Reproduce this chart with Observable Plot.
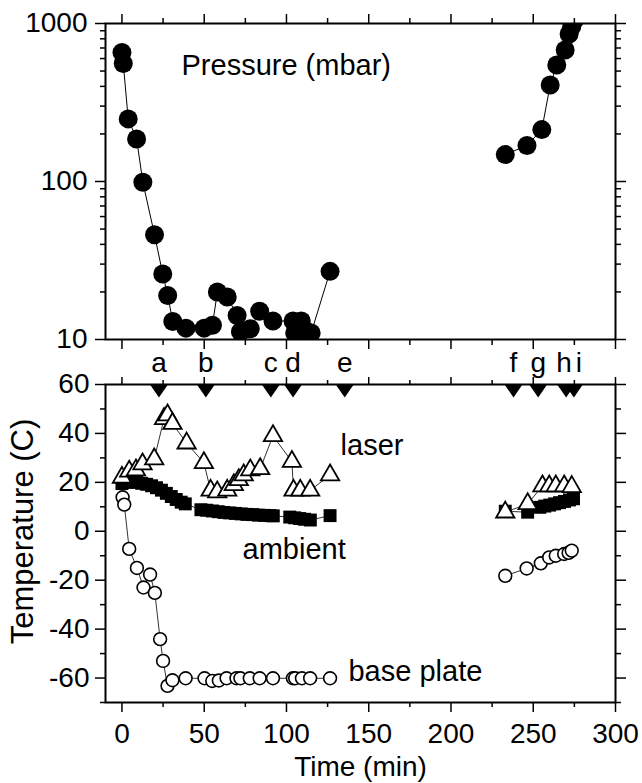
<!DOCTYPE html>
<html><head><meta charset="utf-8">
<script src="https://cdn.jsdelivr.net/npm/d3@7"></script>
<script src="https://cdn.jsdelivr.net/npm/@observablehq/plot@0.6"></script>
<style>
body{margin:0;background:#fff;}
#chart{position:relative;width:642px;height:783px;background:#fff;}
#chart svg{position:absolute;left:0;display:block;overflow:visible;}
</style></head><body><div id="chart"></div>
<script>
// ---------- data ----------
const pressTime = [0, 0.8, 3.8, 8.9, 12.7, 19.8, 24.8, 27.8, 30.9, 38.9, 50, 55, 58, 64, 70, 72, 78, 83.7, 91.8, 104, 105, 109, 111, 115, 126.5,
                   233, 246.2, 255.2, 260.3, 264.3, 269.4, 271.8, 273.4, 275];
const pressure  = [656, 559, 249, 186, 99, 46, 26, 19, 13, 11.8, 11.8, 12.3, 20, 18.6, 14.2, 11.2, 11.7, 15.1, 13.1, 13.1, 11.0, 13.1, 11.5, 11, 27,
                   148, 169, 213, 408, 546, 679, 857, 953, 1050];

const laserTime = [0, 4.4, 8.5, 12.5, 19.6, 25.6, 27.7, 30.7, 39.3, 49.8, 53.9, 57.9, 64, 68, 71, 74, 78, 84, 91.8, 103.3, 104.3, 108.4, 114.4, 126.5,
                   233, 246.6, 255.6, 259.7, 263.7, 268.8, 273.4];
const laserTemp = [22, 24.5, 25, 27.5, 29.5, 46, 47.5, 44, 36, 28, 16.7, 16, 16.7, 19, 21, 23, 25, 25.5, 39, 28.5, 16.7, 16.7, 16.7, 23,
                   7.8, 11.2, 18.5, 18.5, 18.5, 18.5, 18.2];

const ambientTime = [0, 3, 6, 9, 12, 15, 18, 21, 24, 27, 30, 33, 36, 38.5,
                     48, 51.5, 55, 58.5, 62, 65.5, 69, 72.5, 76, 79.5, 83, 86.5, 90, 92,
                     102, 105, 108, 111, 114.5, 126.5,
                     233, 246.6, 254, 257, 260, 263, 266, 269, 272, 274.5];
const ambientTemp = [19.5, 20, 20.2, 20, 19.6, 19.2, 18.6, 17.8, 16.8, 15.5, 14.2, 13, 11.9, 11.2,
                     8.8, 8.6, 8.3, 8.0, 7.7, 7.5, 7.3, 7.1, 6.9, 6.8, 6.6, 6.5, 6.4, 6.3,
                     5.8, 5.5, 5.2, 4.9, 4.6, 6.4,
                     8.2, 7.8, 9.8, 10.3, 10.7, 11.2, 11.7, 12.2, 12.8, 13.3];

const baseTime = [0.4, 1.4, 4.4, 9.1, 13.1, 17.1, 20, 23.2, 25, 27.7, 30.7, 38.7, 50.2, 54.9, 58.9, 63.6, 69.6, 72, 77.7, 83.7, 91.8, 103.9, 105.3, 109.4, 114.4, 126.5,
                  233, 246, 254.6, 259.7, 263.7, 268.8, 271.5, 273.4];
const baseTemp = [13.9, 10.9, -7.2, -15, -23, -17.7, -25.2, -44.1, -53, -63.2, -60.9, -60.1, -60.1, -61.2, -61, -60.1, -60.1, -60.1, -60.1, -60.1, -60.1, -60.1, -60.1, -60.1, -60.1, -60.1,
                  -18.2, -15.2, -13.1, -10.7, -10, -9.3, -8.8, -7.9];

const markerTime  = [22.5, 51, 90.5, 104, 135.4, 238, 253, 270, 274.7];
const markerLabel = ["a", "b", "c", "d", "e", "f", "g", "h", "i"];

const xTicksMajor = [0, 50, 100, 150, 200, 250, 300];
const xTicksMinor = [25, 75, 125, 175, 225, 275];
const pTicksMajor = [10, 100, 1000];
const pTicksMinor = [20, 30, 40, 50, 60, 70, 80, 90, 200, 300, 400, 500, 600, 700, 800, 900];
const tTicksMajor = [-60, -40, -20, 0, 20, 40, 60];
const tTicksMinor = [-70, -50, -30, -10, 10, 30, 50];

// ---------- helpers ----------
const rows = (ts, vs) => ts.map((t, i) => ({t, v: vs[i], seg: t > 200 ? "late" : "early"}));
const pressRows = rows(pressTime, pressure);
const laserRows = rows(laserTime, laserTemp);
const ambientRows = rows(ambientTime, ambientTemp);
const baseRows = rows(baseTime, baseTemp);
const markerRows = markerTime.map((t, i) => ({t, label: markerLabel[i]}));

const FONT = "'Liberation Sans', Arial, Helvetica, sans-serif";
const blank = () => "";
const triDown = {
  draw(context, size) {
    const r = Math.sqrt(size / Math.PI);
    context.moveTo(-r, 0); context.lineTo(r, 0); context.lineTo(0, 1.45 * r); context.closePath();
  }
};
const xDomain = [-10, 300];

function xAxes(anchor, major, minor, labels) {
  return [
    Plot.axisX({anchor, ticks: xTicksMajor, tickSize: major, tickPadding: 11, strokeWidth: 1.5,
      tickFormat: labels ? (d => String(d)) : blank, fontSize: 28, label: null}),
    Plot.axisX({anchor, ticks: xTicksMinor, tickSize: minor, strokeWidth: 1.5, tickFormat: blank, label: null})
  ];
}
const letterMark = (filter, dx) => Plot.text(markerRows.filter(filter), {
  x: "t", text: "label", frameAnchor: "top", lineAnchor: "middle", dy: -21, dx, fontSize: 28, fill: "black"
});

// ---------- top panel: pressure ----------
const topPlot = Plot.plot({
  width: 642, height: 350,
  marginLeft: 105, marginRight: 27, marginTop: 23, marginBottom: 11,
  style: {fontFamily: FONT, background: "transparent", overflow: "visible"},
  x: {domain: xDomain},
  y: {type: "log", domain: [10, 1000]},
  marks: [
    Plot.line(pressRows, {x: "t", y: "v", z: "seg", stroke: "black", strokeWidth: 1, clip: true}),
    Plot.dot(pressRows, {x: "t", y: "v", r: 9.5, fill: "black", stroke: "none", clip: true}),
    Plot.text(["Pressure (mbar)"], {x: 36.2, y: 543, text: d => d, textAnchor: "start", lineAnchor: "middle", fontSize: 29, fill: "black"}),
    Plot.axisY({anchor: "left", ticks: pTicksMajor, tickSize: 10, tickPadding: 8, strokeWidth: 1.5, tickFormat: d => String(d), fontSize: 28, label: null}),
    Plot.axisY({anchor: "left", ticks: pTicksMinor, tickSize: 5, strokeWidth: 1.5, tickFormat: blank, label: null}),
    Plot.axisY({anchor: "right", ticks: pTicksMajor, tickSize: 10, strokeWidth: 1.5, tickFormat: blank, label: null}),
    Plot.axisY({anchor: "right", ticks: pTicksMinor, tickSize: 5, strokeWidth: 1.5, tickFormat: blank, label: null}),
    ...xAxes("top", 10, 6, false),
    ...xAxes("bottom", 10, 6, false),
    Plot.frame({stroke: "black", strokeWidth: 2})
  ]
});
topPlot.style.top = "0px";

// ---------- bottom panel: temperature ----------
const bottomPlot = Plot.plot({
  width: 642, height: 433,
  marginLeft: 105, marginRight: 27, marginTop: 34, marginBottom: 81,
  style: {fontFamily: FONT, background: "transparent", overflow: "visible"},
  x: {domain: xDomain},
  y: {domain: [-70, 60]},
  marks: [
    Plot.line(ambientRows, {x: "t", y: "v", z: "seg", stroke: "black", strokeWidth: 0.8}),
    Plot.line(baseRows, {x: "t", y: "v", z: "seg", stroke: "black", strokeWidth: 0.8}),
    Plot.line(laserRows, {x: "t", y: "v", z: "seg", stroke: "black", strokeWidth: 0.8}),
    Plot.dot(ambientRows, {x: "t", y: "v", symbol: "square", r: 7.3, fill: "black", stroke: "none"}),
    Plot.dot(baseRows, {x: "t", y: "v", symbol: "circle", r: 6.4, fill: "white", stroke: "black", strokeWidth: 1.6}),
    Plot.dot(laserRows, {x: "t", y: "v", symbol: "triangle", r: 6.8, fill: "white", stroke: "black", strokeWidth: 1.8}),
    Plot.dot(markerTime, {x: d => d, frameAnchor: "top", symbol: triDown, r: 9, fill: "black", stroke: "none"}),
    letterMark(d => d.label !== "h" && d.label !== "i", 0),
    letterMark(d => d.label === "h", -2),
    letterMark(d => d.label === "i", 5),
    Plot.text(["laser"], {x: 132.9, y: 34.8, text: d => d, textAnchor: "start", lineAnchor: "middle", fontSize: 29, fill: "black"}),
    Plot.text(["ambient"], {x: 73.3, y: -7.5, text: d => d, textAnchor: "start", lineAnchor: "middle", fontSize: 29, fill: "black"}),
    Plot.text(["base plate"], {x: 137.7, y: -57.5, text: d => d, textAnchor: "start", lineAnchor: "middle", fontSize: 29, fill: "black"}),
    Plot.axisY({anchor: "left", ticks: tTicksMajor, tickSize: 10, tickPadding: 6, strokeWidth: 1.5, tickFormat: d => String(d), fontSize: 28, label: null}),
    Plot.axisY({anchor: "left", ticks: tTicksMinor, tickSize: 5, strokeWidth: 1.5, tickFormat: blank, label: null}),
    Plot.axisY({anchor: "right", ticks: tTicksMajor, tickSize: 10, strokeWidth: 1.5, tickFormat: blank, label: null}),
    Plot.axisY({anchor: "right", ticks: tTicksMinor, tickSize: 5, strokeWidth: 1.5, tickFormat: blank, label: null}),
    ...xAxes("top", 8, 5, false),
    ...xAxes("bottom", 10, 5, true),
    Plot.text(["Time (min)"], {frameAnchor: "bottom", textAnchor: "middle", lineAnchor: "middle", dy: 65, text: d => d, fontSize: 28, fill: "black"}),
    Plot.text(["Temperature (C)"], {frameAnchor: "left", textAnchor: "middle", lineAnchor: "middle", dx: -82, dy: -12, rotate: -90, text: d => d, fontSize: 31, fill: "black"}),
    Plot.frame({stroke: "black", strokeWidth: 2})
  ]
});
bottomPlot.style.top = "350px";

const chart = document.getElementById("chart");
chart.append(topPlot, bottomPlot);
</script>
</body></html>
